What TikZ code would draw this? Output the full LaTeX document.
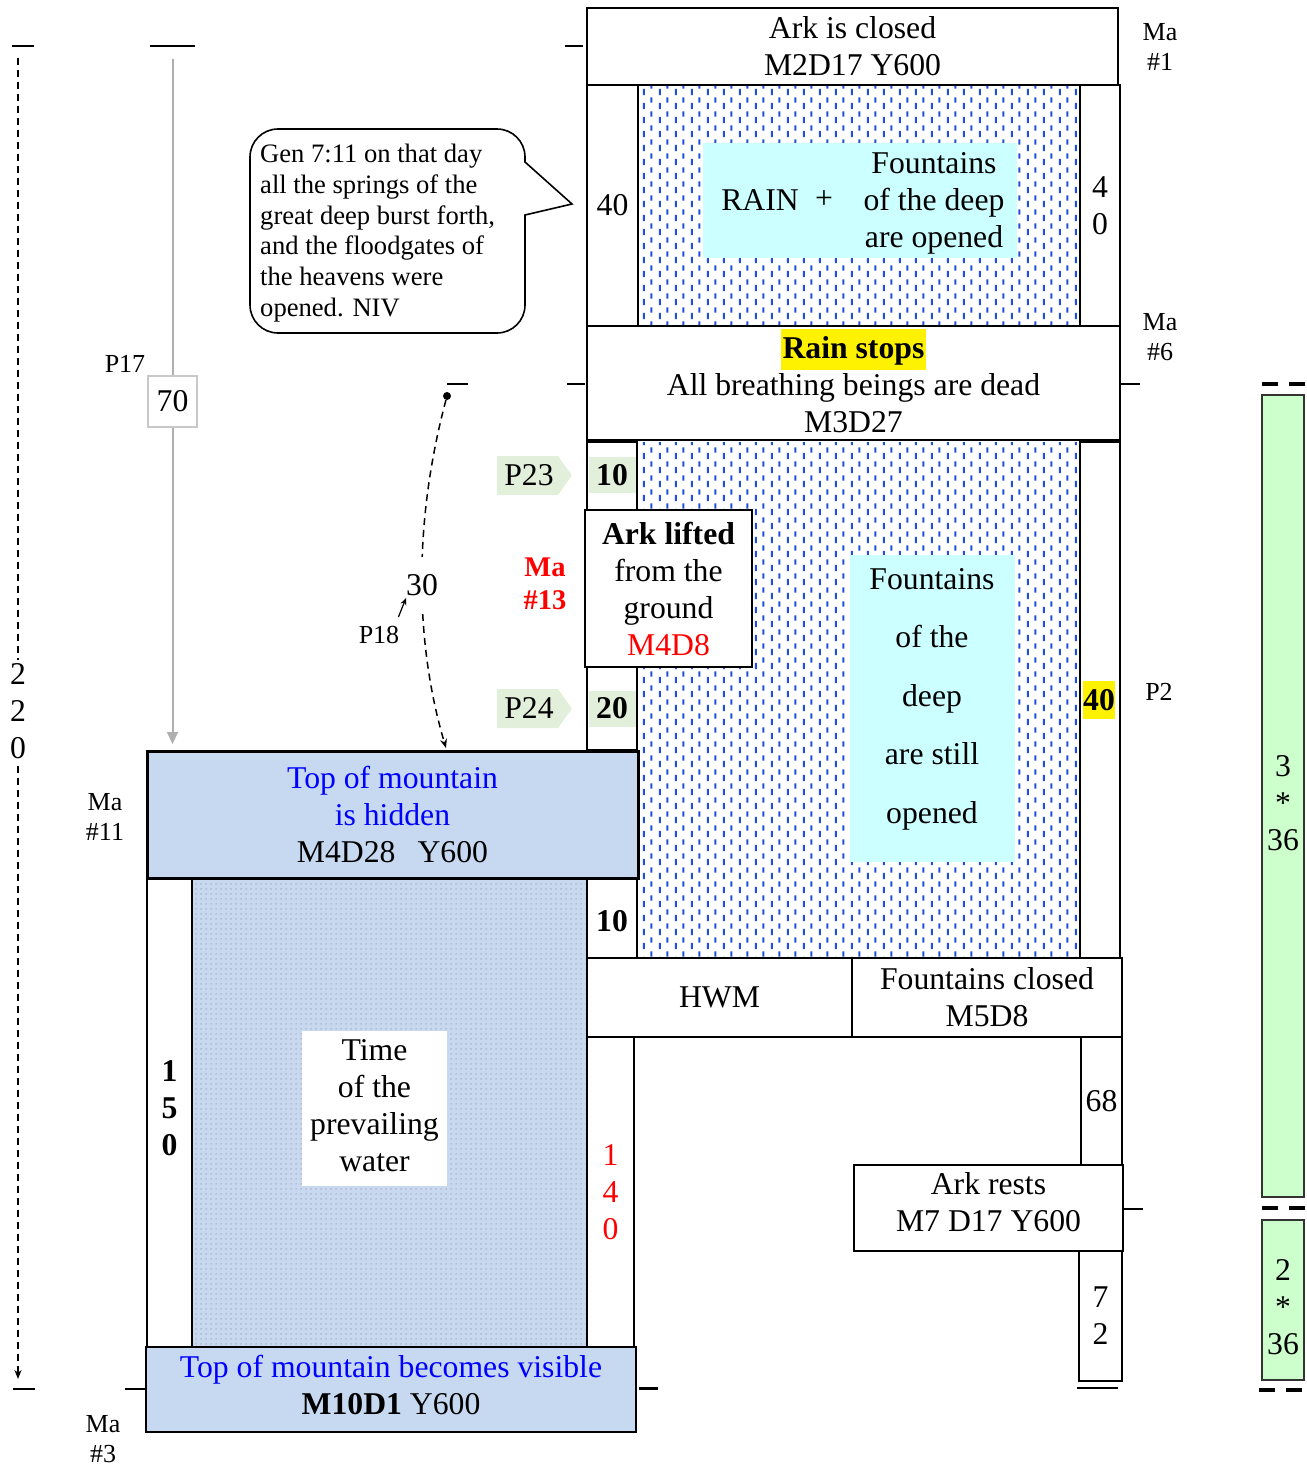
\documentclass[tikz,border=0pt]{standalone}
\usepackage{fontspec}
\setmainfont{Liberation Serif}
\usetikzlibrary{arrows.meta,patterns,patterns.meta}
\definecolor{mtblue}{RGB}{198,217,241}
\definecolor{cyanbox}{RGB}{204,255,255}
\definecolor{tagfill}{RGB}{226,239,218}
\definecolor{bargreen}{RGB}{204,255,204}
\definecolor{rainblue}{RGB}{30,80,220}
\definecolor{dotbg}{RGB}{200,216,238}
\definecolor{dotfg}{RGB}{140,155,180}
\definecolor{textblue}{RGB}{0,0,255}
\definecolor{boxgray}{RGB}{200,200,200}
\definecolor{linegray}{RGB}{175,175,175}
\newcommand\mainsz{\fontsize{31.7pt}{37pt}\selectfont}
\newcommand\smallsz{\fontsize{26pt}{30.5pt}\selectfont}
\newcommand\callsz{\fontsize{26.6pt}{30.8pt}\selectfont}
\setlength{\fboxsep}{1.5pt}
\tikzdeclarepattern{
  name=raindash,
  type=uncolored,
  bounding box={(0pt,0pt) and (15.6pt,14pt)},
  tile size={(15.6pt,14pt)},
  code={\draw[line width=2pt] (3.9pt,1pt) -- (3.9pt,7.5pt);
        \draw[line width=2pt] (11.7pt,8pt) -- (11.7pt,13.5pt);}
}
\tikzdeclarepattern{
  name=finedots,
  type=uncolored,
  bounding box={(0pt,0pt) and (4.5pt,4.5pt)},
  tile size={(4.5pt,4.5pt)},
  code={\fill (2.25pt,2.25pt) circle[radius=0.8pt];}
}
\tikzset{
  box/.style={draw, line width=1.6pt, inner sep=0pt, align=center, font=\mainsz},
  lbl/.style={inner sep=0pt, align=center, font=\mainsz},
  slbl/.style={inner sep=0pt, align=center, font=\smallsz},
  tickln/.style={line width=1.5pt},
  grayline/.style={draw=linegray, line width=2pt},
  dashline/.style={dash pattern=on 7pt off 5pt, line width=1.5pt},
  bardash/.style={dash pattern=on 16pt off 11pt, line width=3.5pt},
  greentag/.style={fill=tagfill, minimum width=47pt, minimum height=36pt, inner sep=0pt, font=\mainsz\bfseries}
}
\newcommand\mkbox[7][]{\node[box,minimum width={#5-#3},minimum height={#6-#4},#1] (#2) at ({(#3+#5)/2},{(#4+#6)/2}) {#7};}
\begin{document}
\begin{tikzpicture}[x=1pt,y=-1pt]
\useasboundingbox (0,0) rectangle (1307,1468);
% water areas
\path[pattern=raindash, pattern color=rainblue] (638,85) rectangle (1080,326);
\path[pattern=raindash, pattern color=rainblue] (637,442) rectangle (1080,958);
\fill[dotbg] (192,878) rectangle (587,1347);
\path[pattern=finedots, pattern color=dotfg] (192,878) rectangle (587,1347);
% cyan panels
\node[fill=cyanbox, minimum width=314, minimum height=115, inner sep=0pt] (cyanA) at (860,200.5) {};
\node[lbl] (rain) at (760,200) {RAIN};
\node[lbl] (plus) at (824,200) {+};
\node[lbl] (fopen) at (934,203) {Fountains\\of the deep\\are opened};
\node[fill=cyanbox, minimum width=165, minimum height=307, inner sep=0pt] (cyanB) at (932.5,708.5) {};
\node[lbl, font=\fontsize{31.7pt}{58.5pt}\selectfont] (fstill) at (932,699) {Fountains\\of the\\deep\\are still\\opened};
% top part
\mkbox{arkclosed}{587}{8}{1118}{85}{Ark is closed\\M2D17 Y600}
\mkbox{colA}{587}{85}{638}{326}{40}
\mkbox{colB}{1080}{85}{1120}{326}{4\\0}
\mkbox[line width=2.2pt, fill=white]{rainstops}{587}{326}{1120}{440}{}
\node[lbl] (rstext) at (853.5,381) {\colorbox{yellow}{\rule[-10pt]{0pt}{38pt}\textbf{Rain stops}}\\All breathing beings are dead\\M3D27};
% middle columns
\mkbox{colH}{587}{442}{637}{510}{}
\node[greentag] (t10) at (612,475) {10};
\mkbox{colI}{587}{667}{637}{750}{}
\node[greentag] (t20) at (612,708.5) {20};
\mkbox[fill=white]{arklifted}{585}{510}{752}{667}{\textbf{Ark lifted}\\from the\\ground\\\textcolor{red}{M4D8}}
\mkbox{colJ}{1080}{442}{1120}{958}{}
\node[lbl, fill=yellow, inner xsep=0.5pt, inner ysep=8pt, font=\mainsz\bfseries] (y40) at (1099,700) {40};
% tags
\fill[tagfill] (497,456) -- (558,456) -- (572,475.5) -- (558,495) -- (497,495) -- cycle;
\node[lbl] (p23) at (529,475) {P23};
\fill[tagfill] (497,689) -- (558,689) -- (572,708.5) -- (558,728) -- (497,728) -- cycle;
\node[lbl] (p24) at (529,708) {P24};
\node[lbl, font=\fontsize{28.5pt}{33pt}\selectfont\bfseries, text=red] (ma13) at (545,584) {Ma\\\#13};
% lower part
\mkbox{colC}{147}{878}{192}{1347}{}
\node[lbl, font=\mainsz\bfseries] (n150) at (169.5,1108) {1\\5\\0};
\mkbox[draw=none, fill=white]{timebox}{302}{1031}{447}{1186}{}
\node[lbl] (timetext) at (374.5,1105.5) {Time\\of the\\prevailing\\water};
\mkbox{colD}{587}{878}{637}{958}{}
\node[lbl, font=\mainsz\bfseries] (n10b) at (612,921) {10};
\mkbox{hwm}{587}{958}{852}{1037}{HWM}
\mkbox{fclosed}{852}{958}{1122}{1037}{Fountains closed\\M5D8}
\mkbox[text=red]{colE}{587}{1037}{634}{1347}{1\\4\\0}
\mkbox{colF}{1081}{1037}{1122}{1165}{68}
\mkbox{arkrests}{854}{1165}{1123}{1251}{}
\node[lbl] (arktext) at (988.5,1202) {Ark rests\\M7 D17 Y600};
\mkbox{colG}{1079}{1251}{1122}{1381}{7\\2}
\mkbox[fill=mtblue, line width=3pt]{mhid}{147}{751}{638}{878}{\textcolor{textblue}{Top of mountain}\\\textcolor{textblue}{is hidden}\\M4D28\hspace{22pt}Y600}
\mkbox[fill=mtblue, line width=2.6pt]{mvis}{146}{1347}{636}{1432}{}
\node[lbl] (mvistext) at (391,1385) {\textcolor{textblue}{Top of mountain becomes visible}\\\textbf{M10D1} Y600};
% side labels
\node[slbl] (ma1) at (1160,47) {Ma\\\#1};
\node[slbl] (ma6) at (1160,337) {Ma\\\#6};
\node[slbl] (ma11) at (105,817) {Ma\\\#11};
\node[slbl] (ma3) at (103,1439) {Ma\\\#3};
\node[slbl] (p2) at (1159,692) {P2};
\node[slbl] (p17) at (125,364) {P17};
\node[slbl] (p18) at (379,635) {P18};
% ticks
\draw[tickln] (150,46) -- (195,46);
\draw[tickln] (12,46) -- (34,46);
\draw[tickln] (565,46) -- (583,46);
\draw[tickln] (567,384) -- (585,384);
\draw[tickln] (1120,384) -- (1140,384);
\draw[tickln] (447,384) -- (468,384);
\draw[tickln] (1123,1209) -- (1143,1209);
\draw[tickln] (13,1389) -- (35,1389);
\draw[tickln] (125,1389) -- (145,1389);
\draw[line width=3pt] (639,1388) -- (658,1388);
\draw[tickln] (1077,1388) -- (1118,1388);
% left dashed scale
\coordinate (dtop) at (18,58);
\coordinate (dbot) at (18,1379);
\draw[dashline, -{Stealth[length=9pt,width=7pt]}] (dtop) -- (dbot);
\node[lbl, fill=white, inner sep=3pt] (n220) at (18,711) {2\\2\\0};
% gray arrow with 70
\node[draw=boxgray, line width=2pt, fill=white, minimum width=49, minimum height=51, inner sep=0pt, font=\mainsz] (n70) at (172.5,401.5) {70};
\coordinate (gtop) at (172.5,59);
\coordinate (gend) at (172.5,744);
\draw[grayline] (gtop) -- (n70.north);
\draw[grayline, -{Triangle[length=12pt,width=11pt]}] (n70.south) -- (gend);
% curved dashed arrow
\node[circle, fill, inner sep=0pt, minimum size=8pt] (dot) at (447,396) {};
\coordinate (cend) at (446,748);
\draw[dashline, -{Stealth[length=9pt,width=7pt]}] (dot) .. controls (414,520) and (414,640) .. (cend) node[pos=0.52, fill=white, inner xsep=1pt, inner ysep=18pt, font=\mainsz] (n30) {30};
\coordinate (p18tip) at (406,598);
\draw[line width=1.2pt, -{Stealth[length=7pt,width=6pt]}] ([shift={(-1,-9)}]p18.north east) -- (p18tip);
% callout
\draw[line width=1.6pt, fill=white] (525,162) -- (525,157) arc[start angle=0, end angle=-90, radius=28] -- (278,129) arc[start angle=-90, end angle=-180, radius=28] -- (250,305) arc[start angle=180, end angle=90, radius=28] -- (497,333) arc[start angle=90, end angle=0, radius=28] -- (525,215) -- (572,204) -- cycle;
\node[anchor=west, align=left, inner sep=0pt, font=\callsz] (gen) at (260,233) {Gen 7:11 on that day\\all the springs of the\\great deep burst forth,\\and the floodgates of\\the heavens were\\opened. NIV};
% green bars
\mkbox[fill=bargreen, line width=1.5pt, draw=black!80]{barA}{1262}{395}{1304}{1197}{}
\node[lbl] (barAtext) at (1283,803) {3\\*\\36};
\mkbox[fill=bargreen, line width=1.5pt, draw=black!80]{barB}{1262}{1220}{1304}{1380}{}
\node[lbl] (barBtext) at (1283,1307) {2\\*\\36};
\draw[bardash] (1262,384) -- (1307,384);
\draw[bardash] (1262,1208) -- (1307,1208);
\draw[bardash] (1259,1390) -- (1307,1390);
\end{tikzpicture}
\end{document}
